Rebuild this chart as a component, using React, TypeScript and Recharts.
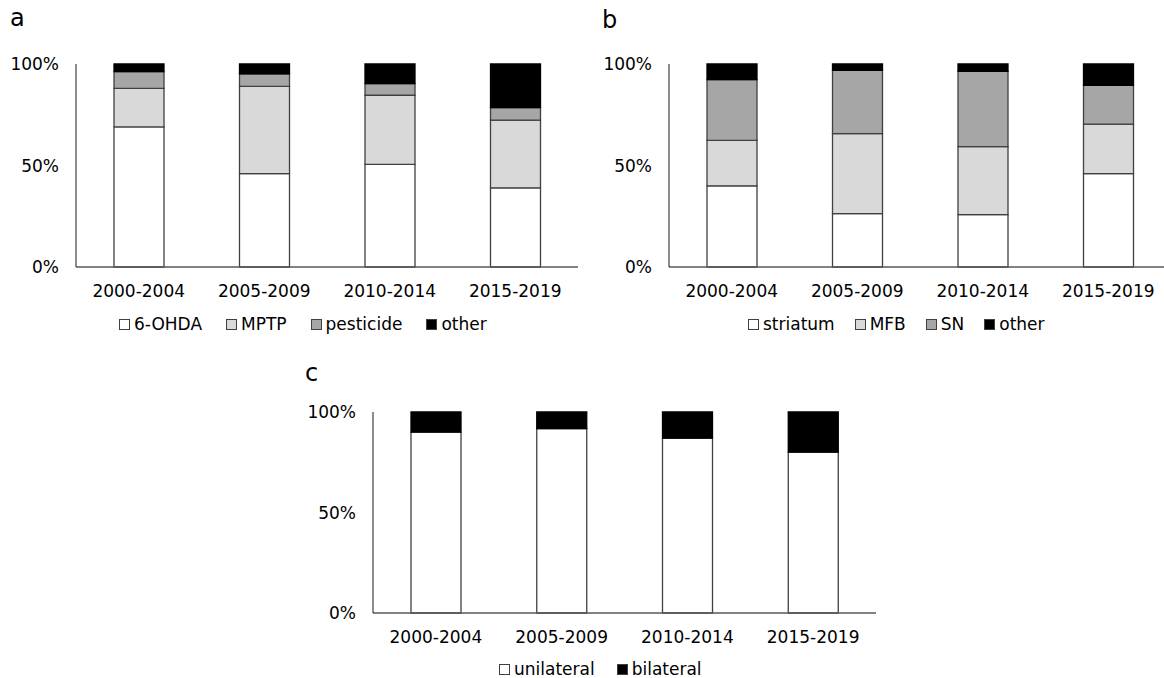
import React from 'react';
import { BarChart, Bar, XAxis, YAxis, Legend } from 'recharts';

const categories = ['2000-2004', '2005-2009', '2010-2014', '2015-2019'];
const yTicks = [0, 50, 100];

// Panel a: toxin type (%)
const aNames = ['6-OHDA', 'MPTP', 'pesticide', 'other'];
const aOhda = [69, 46, 50.6, 39];
const aMptp = [19, 43, 34, 33.4];
const aPesticide = [8.2, 6.2, 5.7, 6.1];
const aOther = [3.8, 4.8, 9.7, 21.5];

// Panel b: injection site (%)
const bNames = ['striatum', 'MFB', 'SN', 'other'];
const bStriatum = [40, 26.3, 25.8, 46];
const bMfb = [22.4, 39.4, 33.5, 24.4];
const bSn = [29.9, 31.2, 37.1, 19.1];
const bOther = [7.7, 3.1, 3.6, 10.5];

// Panel c: lesion side (%)
const cNames = ['unilateral', 'bilateral'];
const cUnilateral = [90, 91.7, 87, 80];
const cBilateral = [10, 8.3, 13, 20];

const fills4 = ['#ffffff', '#d9d9d9', '#a6a6a6', '#000000'];
const fills2 = ['#ffffff', '#000000'];
const FONT = '"DejaVu Sans", sans-serif';

function buildRows(series: number[][]) {
  return categories.map((cat, i) => {
    const row: Record<string, number | string> = { cat };
    series.forEach((s, k) => {
      row['s' + k] = s[i];
    });
    return row;
  });
}

type PanelProps = {
  left: number;
  top: number;
  width: number;
  height: number;
  yAxisWidth: number;
  marginRight: number;
  marginBottom: number;
  names: string[];
  series: number[][];
  fills: string[];
  legendLeft: number;
  legendTop: number;
  legendGap: number;
};

function Panel(p: PanelProps) {
  const rows = buildRows(p.series);
  const legendContent = () => (
    <div
      style={{
        display: 'flex',
        alignItems: 'center',
        whiteSpace: 'nowrap',
        fontFamily: FONT,
        fontSize: 17,
        lineHeight: '18px',
        color: '#000',
        height: 18,
      }}
    >
      {p.names.map((n, k) => (
        <div
          key={n}
          style={{
            display: 'flex',
            alignItems: 'center',
            marginRight: k === p.names.length - 1 ? 0 : p.legendGap,
          }}
        >
          <span
            style={{
              display: 'inline-block',
              width: 9,
              height: 9,
              background: p.fills[k],
              border: '1px solid #404040',
              marginRight: 4,
            }}
          />
          <span>{n}</span>
        </div>
      ))}
    </div>
  );
  return (
    <div style={{ position: 'absolute', left: p.left, top: p.top }}>
      <BarChart
        width={p.width}
        height={p.height}
        data={rows}
        margin={{ top: 64, right: p.marginRight, bottom: p.marginBottom, left: 0 }}
        barSize={50}
      >
        <XAxis
          dataKey="cat"
          interval={0}
          tickLine={false}
          tickSize={0}
          tickMargin={18}
          height={30}
          axisLine={{ stroke: '#595959', strokeWidth: 1.5 }}
          tick={{ fontFamily: FONT, fontSize: 17, fill: '#000' }}
        />
        <YAxis
          width={p.yAxisWidth}
          domain={[0, 100]}
          ticks={yTicks}
          tickFormatter={(v: number) => v + '%'}
          tickLine={false}
          tickSize={0}
          tickMargin={17}
          axisLine={{ stroke: '#1a1a1a', strokeWidth: 1 }}
          tick={{ fontFamily: FONT, fontSize: 17, fill: '#000' }}
        />
        <Legend
          layout="horizontal"
          verticalAlign="middle"
          align="center"
          content={legendContent}
          wrapperStyle={{ left: p.legendLeft, top: p.legendTop, width: 'auto', height: 18 }}
        />
        {p.series.map((_, k) => (
          <Bar
            key={k}
            dataKey={'s' + k}
            name={p.names[k]}
            stackId="st"
            fill={p.fills[k]}
            stroke={p.fills[k] === '#000000' ? '#000000' : '#404040'}
            strokeWidth={1.3}
            isAnimationActive={false}
          />
        ))}
      </BarChart>
    </div>
  );
}

const letterStyle: React.CSSProperties = {
  position: 'absolute',
  fontFamily: FONT,
  fontSize: 24,
  lineHeight: '24px',
  color: '#000',
};

export default function App() {
  return (
    <div
      style={{
        position: 'absolute',
        left: 0,
        top: 0,
        width: 1164,
        height: 678,
        overflow: 'hidden',
        background: '#ffffff',
      }}
    >
      <div style={{ ...letterStyle, left: 10, top: 6 }}>a</div>
      <div style={{ ...letterStyle, left: 602, top: 8 }}>b</div>
      <div style={{ ...letterStyle, left: 305, top: 361 }}>c</div>

      <Panel
        left={0}
        top={0}
        width={600}
        height={345}
        yAxisWidth={76}
        marginRight={22}
        marginBottom={48}
        names={aNames}
        series={[aOhda, aMptp, aPesticide, aOther]}
        fills={fills4}
        legendLeft={119}
        legendTop={315}
        legendGap={24}
      />
      <Panel
        left={580}
        top={0}
        width={600}
        height={345}
        yAxisWidth={89}
        marginRight={9}
        marginBottom={48}
        names={bNames}
        series={[bStriatum, bMfb, bSn, bOther]}
        fills={fills4}
        legendLeft={168}
        legendTop={315}
        legendGap={20}
      />
      <Panel
        left={297}
        top={348}
        width={600}
        height={330}
        yAxisWidth={76}
        marginRight={21}
        marginBottom={35}
        names={cNames}
        series={[cUnilateral, cBilateral]}
        fills={fills2}
        legendLeft={202}
        legendTop={312}
        legendGap={22}
      />
    </div>
  );
}
